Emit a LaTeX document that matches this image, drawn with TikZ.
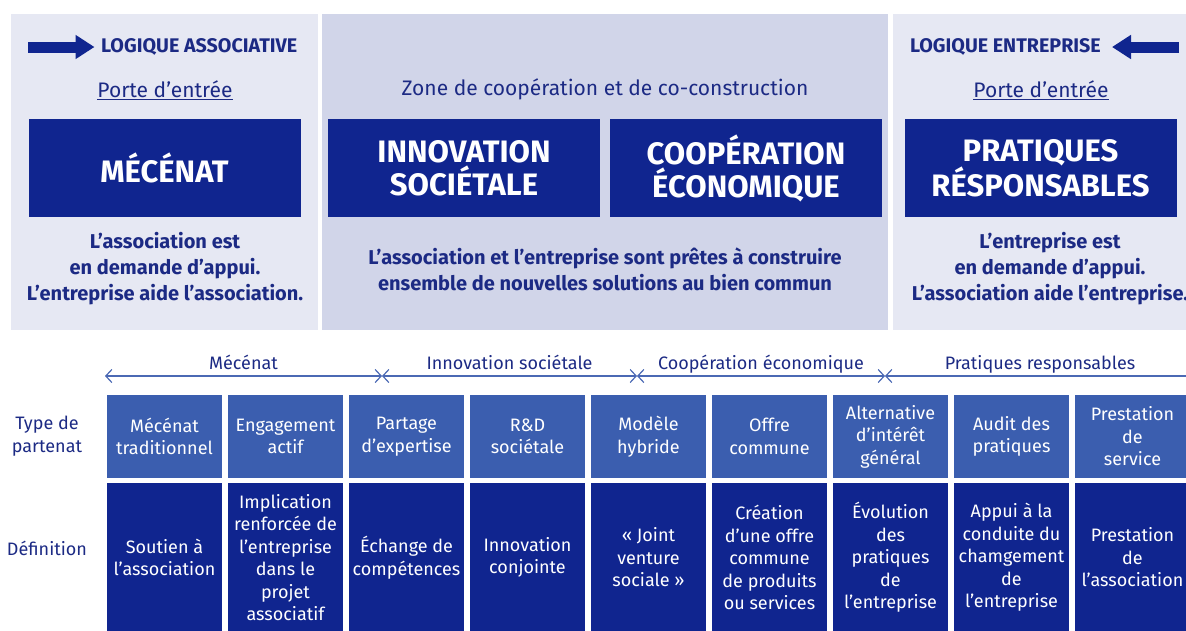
\documentclass[tikz,border=0pt]{standalone}
\usepackage{fontspec}
\setmainfont{Fira Sans}
\usetikzlibrary{positioning,arrows.meta}
\definecolor{boxblue}{RGB}{16,37,143}
\definecolor{cellblue}{RGB}{59,94,175}
\definecolor{inkblue}{RGB}{28,42,132}
\definecolor{paleback}{RGB}{230,232,243}
\definecolor{zoneback}{RGB}{209,213,233}
\definecolor{phaseblue}{RGB}{75,105,180}
\begin{document}
\begin{tikzpicture}
            [x=1pt,y=-1pt,
             bigbox/.style={fill=boxblue,text=white,minimum width=272pt,minimum height=98pt,inner sep=0pt,align=center,font=\bfseries\fontsize{31}{33}\selectfont},
             logic/.style={text=inkblue,inner sep=0pt,font=\bfseries\fontsize{19.7}{21}\selectfont},
             door/.style={text=inkblue,font=\fontsize{21}{24}\selectfont},
             blurb/.style={text=inkblue,align=center,font=\bfseries\fontsize{20}{26}\selectfont},
             typecell/.style={fill=cellblue,text=white,minimum width=115pt,minimum height=83pt,inner sep=0pt,outer sep=0pt,align=center,font=\fontsize{18}{22.5}\selectfont},
             defcell/.style={typecell,fill=boxblue,minimum height=149pt},
             rowlabel/.style={text=inkblue,align=center,font=\fontsize{18}{22.5}\selectfont},
             phase/.style={draw=phaseblue,line width=1.2pt,{Straight Barb[length=6pt,width=13pt]}-{Straight Barb[length=6pt,width=13pt]}},
             phaselabel/.style={text=inkblue,font=\fontsize{18}{20}\selectfont,anchor=base,yshift=7pt},
             fat/.style={draw=boxblue,line width=11pt,-{Triangle[length=19pt,width=23pt]}}]
            \useasboundingbox (0,0) rectangle (1186,630);
            \fill[paleback] (11,14) rectangle (318,330);
            \fill[zoneback] (322,14) rectangle (888,330);
            \fill[paleback] (893,14) rectangle (1210,330);
            \coordinate (lefttail) at (28,47);
            \node[logic,anchor=west,inner xsep=6.5pt] (assologic) at (94.5,47) {LOGIQUE ASSOCIATIVE};
            \draw[fat] (lefttail) -- (assologic.west);
            \coordinate (righttail) at (1179,47);
            \node[logic,anchor=east,inner xsep=11pt] (entrlogic) at (1112,47) {LOGIQUE ENTREPRISE};
            \draw[fat] (righttail) -- (entrlogic.east);
            \node[door] (leftdoor) at (165,90) {\underline{Porte d’entrée}};
            \node[door] (zone) at (605,89) {Zone de coopération et de co-construction};
            \node[door] (rightdoor) at (1041,90) {\underline{Porte d’entrée}};
            \node[bigbox] (mecenat) at (164.5,168) {MÉCÉNAT};
            \node[bigbox] (innovation) at (464,168) {INNOVATION\\SOCIÉTALE};
            \node[bigbox] (cooperation) at (746,168) {COOPÉRATION\\ÉCONOMIQUE};
            \node[bigbox] (pratiques) at (1040.5,168) {PRATIQUES\\RÉSPONSABLES};
            \node[blurb] (assoneed) at (165,269) {L’association est\\en demande d’appui.\\L’entreprise aide l’association.};
            \node[blurb] (together) at (605,269) {L’association et l’entreprise sont prêtes à construire\\ensemble de nouvelles solutions au bien commun};
            \node[blurb] (entrneed) at (1050,269) {L’entreprise est\\en demande d’appui.\\L’association aide l’entreprise.};
            \coordinate (p0) at (105,376);
            \coordinate (p1) at (382,376);
            \coordinate (p2) at (637,376);
            \coordinate (p3) at (885,376);
            \coordinate (p4) at (1195,376);
            \draw[phase] (p0) -- node[phaselabel] {Mécénat} (p1);
            \draw[phase] (p1) -- node[phaselabel] {Innovation sociétale} (p2);
            \draw[phase] (p2) -- node[phaselabel] {Coopération économique} (p3);
            \draw[phase] (p3) -- node[phaselabel] {Pratiques responsables} (p4);
            \node[rowlabel] (typelabel) at (47,436) {Type de\\partenat};
            \node[rowlabel] (deflabel) at (47,548) {Définition};
            \node[typecell] (t1) at (164.5,436.5) {Mécénat\\traditionnel};
            \node[typecell,right=6pt of t1] (t2) {Engagement\\actif};
            \node[typecell,right=6pt of t2] (t3) {Partage\\d’expertise};
            \node[typecell,right=6pt of t3] (t4) {R\&D\\sociétale};
            \node[typecell,right=6pt of t4] (t5) {Modèle\\hybride};
            \node[typecell,right=6pt of t5] (t6) {Offre\\commune};
            \node[typecell,right=6pt of t6] (t7) {Alternative\\d’intérêt\\général};
            \node[typecell,right=6pt of t7] (t8) {Audit des\\pratiques};
            \node[typecell,right=6pt of t8] (t9) {Prestation\\de\\service};
            \node[defcell,below=5pt of t1] (d1) {Soutien à\\l’association};
            \node[defcell,below=5pt of t2] (d2) {Implication\\renforcée de\\l’entreprise\\dans le\\projet\\associatif};
            \node[defcell,below=5pt of t3] (d3) {Échange de\\compétences};
            \node[defcell,below=5pt of t4] (d4) {Innovation\\conjointe};
            \node[defcell,below=5pt of t5] (d5) {«~Joint\\venture\\sociale~»};
            \node[defcell,below=5pt of t6] (d6) {Création\\d’une offre\\commune\\de produits\\ou services};
            \node[defcell,below=5pt of t7] (d7) {Évolution\\des\\pratiques\\de\\l’entreprise};
            \node[defcell,below=5pt of t8] (d8) {Appui à la\\conduite du\\chamgement\\de\\l’entreprise};
            \node[defcell,below=5pt of t9] (d9) {Prestation\\de\\l’association};
        \end{tikzpicture}
\end{document}
